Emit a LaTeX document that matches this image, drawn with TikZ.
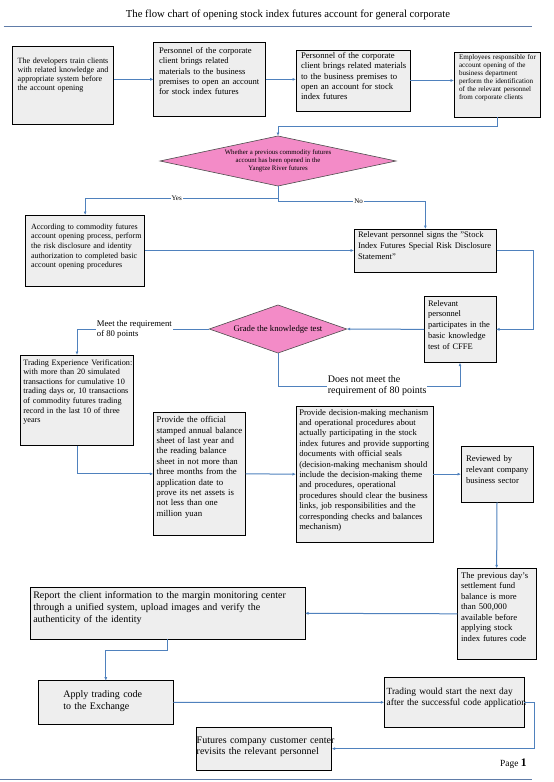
\documentclass[tikz,border=0pt]{standalone}
\usepackage{fontspec}
\setmainfont{Liberation Serif}
\usetikzlibrary{arrows.meta, calc, shapes.geometric}

\definecolor{boxgray}{RGB}{238,238,238}
\definecolor{decpink}{RGB}{243,139,199}
\definecolor{linkblue}{RGB}{79,129,189}
\definecolor{rulegray}{RGB}{96,124,168}
\newcommand{\fsz}[2]{\fontsize{#1}{#2}\selectfont}
\newcommand{\boxlines}[1]{\begin{tabular}[t]{@{}l@{}}#1\end{tabular}}

\begin{document}
\begin{tikzpicture}[
    x=1pt, y=-1pt, % page pixels, y running down
    % box: text width, side pad, first baseline, rest of height, font size, line skip
    stepbox/.style n args={6}{draw=black, fill=boxgray, line width=0.9pt, anchor=north west,
        align=left, inner ysep=0pt, outer sep=0pt, text width=#1pt, inner xsep=#2pt,
        text height=#3pt, text depth=#4pt, font=\fsz{#5}{#6}},
    decision/.style={diamond, draw=black!70, fill=decpink, line width=0.6pt, align=center,
        inner sep=0pt, outer sep=0pt},
    link/.style={-{Latex[length=3.5pt, width=3pt]}, linkblue, line width=1pt}, % Style for arrows
    tag/.style={fill=white, inner sep=1pt, align=left}
]
    \useasboundingbox (0,0) rectangle (554,782);

%    ############# HEADER AND FOOTER
    \node[font=\fsz{10.7}{12}] (title) at (288,15) {The flow chart of opening stock index futures account for general corporate};
    \draw[rulegray, line width=0.8pt] (3.5,26.7) -- (532,26.7);
    \draw[rulegray, line width=0.8pt] (0,779) -- (532,779);
    \node[anchor=base west, inner sep=0pt, font=\fsz{9.4}{12}] (page) at (500,766.7) {Page {\bfseries\fsz{11.5}{12}1}};

%    ############# TOP ROW
    \node[stepbox={90.8}{5.3}{17.7}{60.3}{8}{8.8}] (train) at (12.4,46)
        {\boxlines{The developers train clients\\with related knowledge and\\appropriate system before\\the account opening}};
    \node[stepbox={101.4}{5.3}{11}{62.3}{8.6}{10.2}] (bring) at (153.7,42.7)
        {\boxlines{Personnel of the corporate\\client brings related\\materials to the business\\premises to open an account\\for stock index futures}};
    \node[stepbox={104}{5}{8.3}{52.7}{8.7}{10.4}] (bringb) at (296,50)
        {\boxlines{Personnel of the corporate\\client brings related materials\\to the business premises to\\open an account for stock\\index futures}};
    \node[stepbox={76}{5}{6.3}{58.3}{7.1}{8.07}] (ident) at (454,52.7)
        {\boxlines{Employees responsible for\\account opening of the\\business department\\perform the identification\\of the relevant personnel\\from corporate clients}};

%    ############# FIRST DECISION
    \node[decision, minimum width=236pt, minimum height=50pt, aspect=4.72, font=\fsz{6.8}{8.3}] (prev) at (278,161)
        {Whether a previous commodity futures\\account has been opened in the\\Yangtze River futures};
    \node[stepbox={108.1}{5.7}{14.3}{56.7}{8}{9.6}] (basic) at (25.4,215)
        {\boxlines{According to commodity futures\\account opening process, perform\\the risk disclosure and identity\\authorization to completed basic\\account opening procedures}};
    \node[stepbox={134.7}{4}{8.7}{34.6}{8.5}{10.8}] (sign) at (354,229)
        {\boxlines{Relevant personnel signs the "Stock\\Index Futures Special Risk Disclosure\\Statement"}};
    \node[stepbox={64}{4}{10}{56.7}{8.5}{10.75}] (cffe) at (424,296)
        {\boxlines{Relevant\\personnel\\participates in the\\basic knowledge\\test of CFFE}};

%    ############# KNOWLEDGE TEST
    \node[decision, minimum width=137.4pt, minimum height=48pt, aspect=2.86, font=\fsz{8.7}{10}] (grade) at (278,329)
        {Grade the knowledge test};
    \node[stepbox={107.4}{2.6}{10}{80.7}{8.2}{9.6}] (trading) at (20.7,355)
        {\boxlines{Trading Experience Verification:\\with more than 20 simulated\\transactions for cumulative 10\\trading days or, 10 transactions\\of commodity futures trading\\record in the last 10 of three\\years}};
    \node[stepbox={85.6}{3.4}{10}{112.3}{8.8}{10.4}] (sheet) at (153.3,412.7)
        {\boxlines{Provide the official\\stamped annual balance\\sheet of last year and\\the reading balance\\sheet in not more than\\three months from the\\application date to\\prove its net assets is\\not less than one\\million yuan}};
    \node[stepbox={130.7}{3.3}{9}{127.3}{8.6}{10.4}] (mech) at (296,406)
        {\boxlines{Provide decision-making mechanism\\and operational procedures about\\actually participating in the stock\\index futures and provide supporting\\documents with official seals\\(decision-making mechanism should\\include the decision-making theme\\and procedures, operational\\procedures should clear the business\\links, job responsibilities and the\\corresponding checks and balances\\mechanism)}};
    \node[stepbox={62}{5}{15.7}{40.6}{8.66}{10.8}] (review) at (461,446)
        {\boxlines{Reviewed by\\relevant company\\business sector}};

%    ############# BOTTOM PART
    \node[stepbox={71.3}{3.7}{9.7}{81.3}{8.65}{10.5}] (fund) at (457.3,568.3)
        {\boxlines{The previous day's\\settlement fund\\balance is more\\than 500,000\\available before\\applying stock\\index futures code}};
    \node[stepbox={269.1}{2.6}{11}{41}{10}{12}] (report) at (30.7,587.3)
        {\boxlines{Report the client information to the margin monitoring center\\through a unified system, upload images and verify the\\authenticity of the identity}};
    \node[stepbox={85}{25}{16.8}{26.5}{10}{11.5}] (apply) at (38.3,680.7)
        {\boxlines{Apply trading code\\to the Exchange}};
    \node[stepbox={134.9}{2.4}{16.7}{33.3}{9.4}{11.5}] (start) at (384.3,677.3)
        {\boxlines{Trading would start the next day\\after the successful code application}};
    \node[stepbox={134.3}{0.7}{15.9}{26.8}{10}{11.6}] (revisit) at (196,727.3)
        {\boxlines{Futures company customer center\\revisits the relevant personnel}};

    % --- Connectors ---
    \draw[link] (train.east |- bring.west) -- (bring.west);
    \draw[link] (bring.east) -- (bring.east -| bringb.west);
    \draw[link] (bringb.east) -- (bringb.east -| ident.west);
    \draw[link] (ident.south) -- ++(0,9.3) -| (prev.north);
    \draw[link] (prev.south) -- ++(0,12.5) -| (basic.north); % Yes
    \draw[link] (prev.south) -- ++(0,15) -| (sign.north); % No
    \draw[link] (basic.east) -- (basic.east -| sign.west);
    \draw[link] (sign.east) -- ++(36.6,0) |- (cffe.east);
    \draw[link] (cffe.west) -- (grade.east);
    \draw[link] (grade.west) -| (trading.north); % passed
    \draw[link] (grade.south) -- ++(0,33) -| (cffe.south); % failed, back to the test
    \draw[link] (trading.south) |- (sheet.west);
    \draw[link] (sheet.east) -- (mech.west);
    \draw[link] (mech.east) -- (review.west);
    \draw[link] (review.south) -- (fund.north);
    \draw[link] (fund.west) -- (report.east);
    \draw[link] (report.south) -- ++(0,10.7) -| (apply.north);
    \draw[link] (apply.east) -- (start.west);
    \draw[link] (start.east) -- ++(10,0) |- (revisit.east);

    % --- Branch labels ---
    \node[tag, font=\fsz{7}{8}] (lbl_yes) at (176.7,198.5) {Yes};
    \node[tag, font=\fsz{7}{8}] (lbl_no) at (358.7,201) {No};
    \node[tag, anchor=west, font=\fsz{8.7}{10}] (lbl_meet) at (95.7,329) {Meet the requirement\\of 80 points};
    \node[tag, anchor=west, font=\fsz{10}{11.6}] (lbl_fail) at (326.7,385.5) {Does not meet the\\requirement of 80 points};

\end{tikzpicture}
\end{document}
